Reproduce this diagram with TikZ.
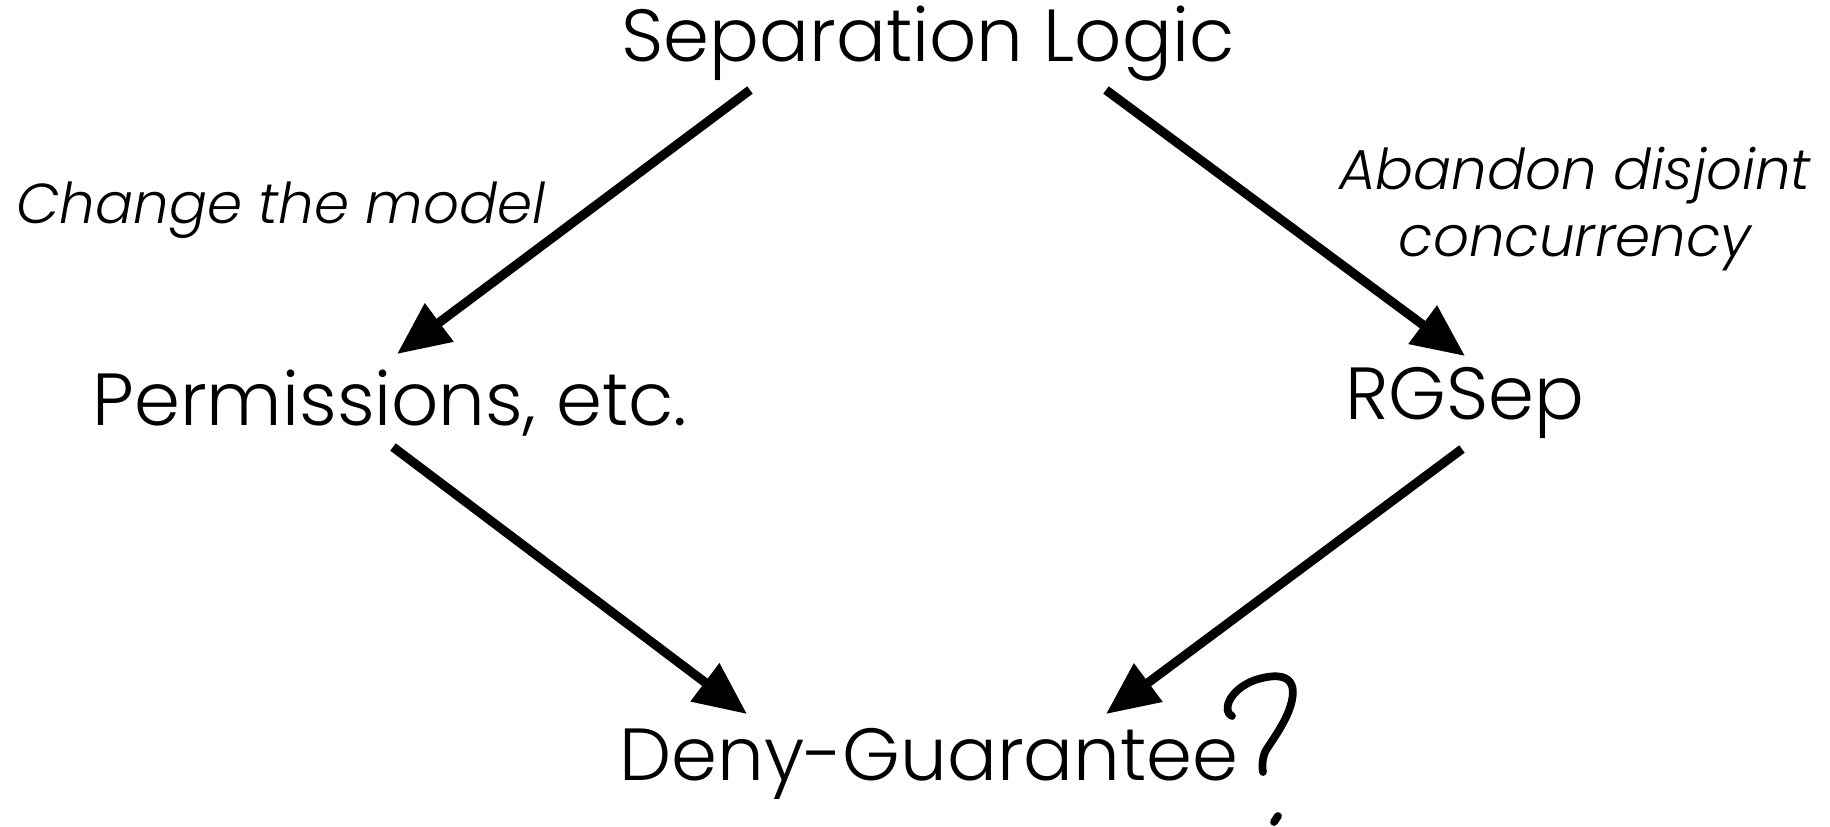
\documentclass[tikz,border=0pt]{standalone}
\usepackage{fontspec}
\setmainfont{Poppins}[UprightFont=* Light, ItalicFont=* Light Italic]
\usetikzlibrary{arrows.meta, calc}

\begin{document}
\begin{tikzpicture}[
    x=0.01cm, y=-0.01cm,
    main_node/.style={font=\fontsize{21}{25}\selectfont, inner sep=0pt},
    edge_label/.style={font=\fontsize{16}{19}\selectfont\itshape, inner sep=0pt, align=center},
    big_arrow/.style={line width=2.6pt, -{Triangle[length=15pt, width=13pt]}},
    scribble/.style={line width=2.2pt, line cap=round, line join=round}
]
\useasboundingbox (0,0) rectangle (1830,826);

% --- Nodos ---
\node[main_node] (sl) at (928,44) {Separation Logic};
\node[main_node] (perm) at (390,403) {Permissions, etc.};
\node[main_node] (rg) at (1465,403) {RGSep};
\node[main_node] (dg) at (929,764) {Deny-Guarantee};

% --- Etiquetas ---
\node[edge_label] (model) at (281,210) {Change the model};
\node[edge_label] (abandon) at (1575,209) {Abandon disjoint\\concurrency};

% --- Flechas ---
\draw[big_arrow] ($(sl)+(-178,46)$) -- ($(perm)+(7,-49)$);
\draw[big_arrow] ($(sl)+(178,46)$) -- ($(rg)+(0,-47)$);
\draw[big_arrow] ($(perm)+(3,44)$) -- ($(dg)+(-182,-50)$);
\draw[big_arrow] ($(rg)+(-3,46)$) -- ($(dg)+(177,-50)$);

% --- Signo de interrogacion a mano ---
\draw[scribble] (1232,716) .. controls (1222,712) and (1228,690) .. (1255,680)
    .. controls (1280,672) and (1297,676) .. (1292,700)
    .. controls (1288,720) and (1272,740) .. (1265,752)
    .. controls (1262,760) and (1262,768) .. (1263,772);
\draw[scribble] (1278,816) -- (1274,822);

\end{tikzpicture}
\end{document}
